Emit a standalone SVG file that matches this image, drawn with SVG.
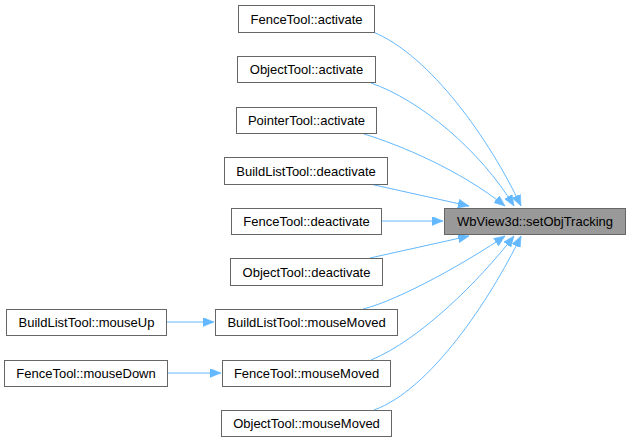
<svg xmlns="http://www.w3.org/2000/svg" width="631" height="443" viewBox="0 0 631 443">
<defs>
<style>
.n rect{fill:#ffffff;stroke:#666666;stroke-width:1}
#target rect{fill:#999999;stroke:#666666}
.n text{font-family:"Liberation Sans",Arial,sans-serif;font-size:13px;text-anchor:middle;fill:#000000}
.e path{fill:none;stroke:#63b8ff;stroke-width:1;marker-end:url(#ah)}
</style>
<marker id="ah" markerUnits="userSpaceOnUse" markerWidth="12" markerHeight="9" refX="11" refY="4.5" orient="auto">
<path d="M0,0 L11,4.5 L0,9 z" fill="#63b8ff" stroke="#63b8ff" stroke-width="0.5"/>
</marker>
</defs>
<rect width="631" height="443" fill="#ffffff"/>
<g id="edges" class="e">
<path d="M373,32 C430,55 490,140 521,206"/>
<path d="M371,83 C420,100 480,150 514,206"/>
<path d="M364,134 C400,145 460,170 505,206"/>
<path d="M370,184 L469,206"/>
<path d="M381,221 L443,221"/>
<path d="M370,258 L469,236"/>
<path d="M363,309 C400,300 470,260 505,236"/>
<path d="M371,360 C420,340 480,280 514,236"/>
<path d="M374,410 C430,390 490,300 521,236"/>
<path d="M166,322 L214,322"/>
<path d="M167,373 L221,373"/>
</g>
<g id="target" class="n"><rect x="444.5" y="208.5" width="181" height="26"/><text x="535" y="226">WbView3d::setObjTracking</text></g>
<g id="fence_activate" class="n"><rect x="238.5" y="5.5" width="136" height="27"/><text x="306.5" y="23.5">FenceTool::activate</text></g>
<g id="object_activate" class="n"><rect x="237.5" y="56.5" width="138" height="26"/><text x="306.5" y="74">ObjectTool::activate</text></g>
<g id="pointer_activate" class="n"><rect x="236.5" y="107.5" width="140" height="26"/><text x="306.5" y="125">PointerTool::activate</text></g>
<g id="buildlist_deactivate" class="n"><rect x="224.5" y="157.5" width="163" height="27"/><text x="306" y="175.5">BuildListTool::deactivate</text></g>
<g id="fence_deactivate" class="n"><rect x="231.5" y="208.5" width="150" height="26"/><text x="306.5" y="226">FenceTool::deactivate</text></g>
<g id="object_deactivate" class="n"><rect x="230.5" y="258.5" width="152" height="27"/><text x="306.5" y="276.5">ObjectTool::deactivate</text></g>
<g id="buildlist_mouseup" class="n"><rect x="6.5" y="309.5" width="160" height="26"/><text x="86.5" y="327">BuildListTool::mouseUp</text></g>
<g id="buildlist_mousemoved" class="n"><rect x="215.5" y="309.5" width="182" height="26"/><text x="306.5" y="327">BuildListTool::mouseMoved</text></g>
<g id="fence_mousedown" class="n"><rect x="4.5" y="360.5" width="163" height="26"/><text x="86" y="378">FenceTool::mouseDown</text></g>
<g id="fence_mousemoved" class="n"><rect x="222.5" y="360.5" width="168" height="26"/><text x="306.5" y="378">FenceTool::mouseMoved</text></g>
<g id="object_mousemoved" class="n"><rect x="221.5" y="410.5" width="170" height="26"/><text x="306.5" y="428">ObjectTool::mouseMoved</text></g>
</svg>
